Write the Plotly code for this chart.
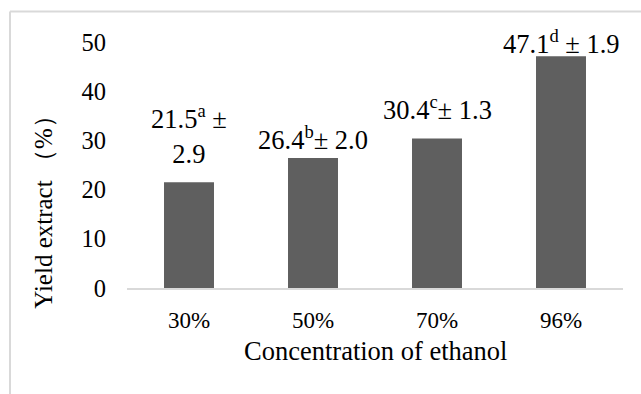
import plotly.graph_objects as go

categories = ["30%", "50%", "70%", "96%"]
yield_values = [21.5, 26.4, 30.4, 47.1]
sd_values = [2.9, 2.0, 1.3, 1.9]
letters = ["a", "b", "c", "d"]
y_ticks = [0, 10, 20, 30, 40, 50]

label_texts = [
    f"{yield_values[0]}<sup>{letters[0]}</sup> ±<br>{sd_values[0]}",
    f"{yield_values[1]}<sup>{letters[1]}</sup>± {sd_values[1]:.1f}",
    f"{yield_values[2]}<sup>{letters[2]}</sup>± {sd_values[2]:.1f}",
    f"{yield_values[3]}<sup>{letters[3]}</sup> ± {sd_values[3]:.1f}",
]
label_shifts = [11, 1, 11, -5]

FONT = "Liberation Serif"
BORDER = "#d9d9d9"

fig = go.Figure(
    go.Bar(
        x=categories,
        y=yield_values,
        marker=dict(color="#5f5f5f", line=dict(width=0)),
        hoverinfo="x+y",
    )
)

for cat, val, txt, sh in zip(categories, yield_values, label_texts, label_shifts):
    fig.add_annotation(
        x=cat, y=val, text=txt, showarrow=False, yanchor="bottom",
        yshift=sh, font=dict(family=FONT, size=26.5, color="black"),
        align="center",
    )

# axis titles
fig.add_annotation(
    xref="paper", yref="paper", x=0.502, y=-0.255, text="Concentration of ethanol",
    showarrow=False, xanchor="center", yanchor="middle",
    font=dict(family=FONT, size=26.5, color="black"),
)
fig.add_annotation(
    xref="paper", yref="paper", x=-0.169, y=0.335, text="Yield extract （%）",
    showarrow=False, xanchor="center", yanchor="middle", textangle=-90,
    font=dict(family=FONT, size=25, color="black"),
)

# outer chart border (top and left visible)
fig.add_shape(type="line", xref="paper", yref="paper", x0=-0.2359, x1=1.2,
              y0=1.1237, y1=1.1237, line=dict(color=BORDER, width=2))
fig.add_shape(type="line", xref="paper", yref="paper", x0=-0.2359, x1=-0.2359,
              y0=1.1237, y1=-0.6, line=dict(color=BORDER, width=2))

fig.update_layout(
    width=641, height=394,
    margin=dict(l=127, r=18, t=42, b=106),
    paper_bgcolor="white", plot_bgcolor="white",
    bargap=0.597,
    showlegend=False,
    font=dict(family=FONT, color="black"),
    xaxis=dict(
        showline=True, linecolor=BORDER, linewidth=2,
        ticks="", showgrid=False, zeroline=False,
        tickfont=dict(family=FONT, size=23, color="black"),
        ticklabelstandoff=10,
    ),
    yaxis=dict(
        range=[0, 50], tickvals=y_ticks, showgrid=False, zeroline=False,
        showline=False, ticks="",
        tickfont=dict(family=FONT, size=24.5, color="black"),
        ticklabelstandoff=20,
    ),
)

fig.write_html(
    "out.html",
    config={"displayModeBar": False},
    post_script="document.body.style.margin='0px';document.body.style.overflow='hidden';",
)
